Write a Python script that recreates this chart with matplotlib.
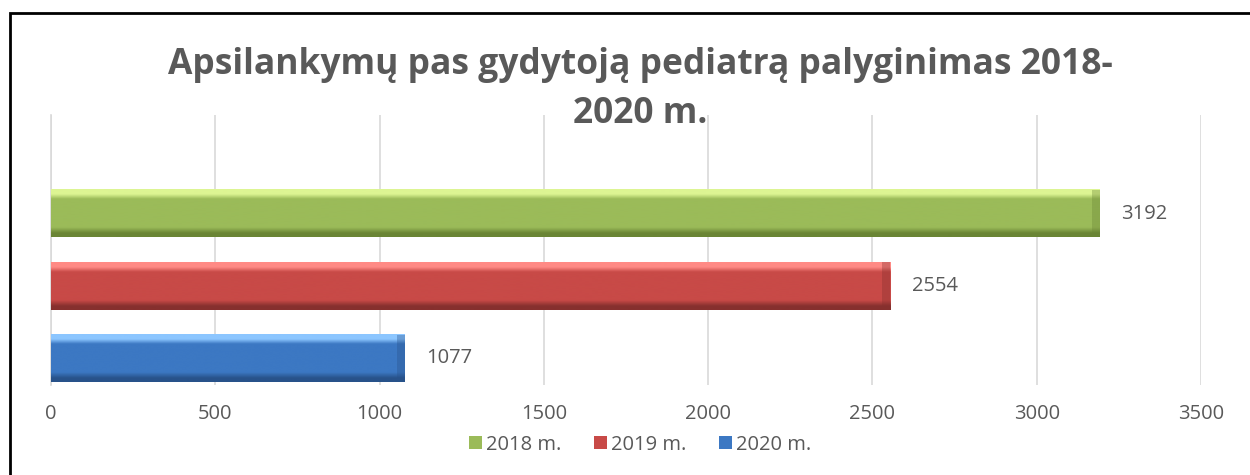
import numpy as np
import matplotlib.pyplot as plt
from matplotlib.patches import Rectangle
from matplotlib.colors import LinearSegmentedColormap

# data
series = ['2018 m.', '2019 m.', '2020 m.']
values = [3192, 2554, 1077]
positions = [2, 1, 0]
colors = ['#9BBB59', '#C84A47', '#3C78C3']
light = ['#DDF593', '#FF8A85', '#8CC6FF']
dark = ['#6A8535', '#86302E', '#28528A']
xticks = [0, 500, 1000, 1500, 2000, 2500, 3000, 3500]
title1 = 'Apsilankymų pas gydytoją pediatrą palyginimas 2018-'
title2 = '2020 m.'

plt.rcParams['font.family'] = ['Open Sans', 'DejaVu Sans']

fig = plt.figure(figsize=(12.5, 4.75), dpi=100)
ax = fig.add_axes([0.0408, 0.1895, 0.92, 0.5684])

h = 0.66
grad = np.linspace(0, 1, 100).reshape(-1, 1)
for name, v, p, c, lc, dc in zip(series, values, positions, colors, light, dark):
    cmap = LinearSegmentedColormap.from_list(
        'b', [(0, dc), (0.08, dc), (0.2, c), (0.8, c), (0.9, lc), (1, lc)])
    # bar used for the legend, gradient drawn over it
    bar = ax.barh(p, v, height=h, color=c, label=name, zorder=3)
    ax.imshow(grad, extent=[0, v, p - h / 2, p + h / 2], cmap=cmap, origin='lower',
              aspect='auto', zorder=4, interpolation='bicubic')
    # darker bevel at the bar end
    ax.barh(p, 25, left=v - 25, height=h, color=dc, alpha=0.35, zorder=5, linewidth=0)
    ax.text(v + 65, p, str(v), va='center', ha='left', fontsize=14.5, color='#595959')

ax.set_xlim(0, 3500)
ax.set_ylim(-0.366, 3.36)
ax.set_aspect('auto')
ax.set_xticks(xticks)
ax.set_xticklabels([str(t) for t in xticks], fontsize=14.5, color='#595959')
ax.set_yticks([])
ax.tick_params(axis='x', length=0, pad=14)
ax.grid(axis='x', color='#D9D9D9', linewidth=1.2, zorder=0)
for s in ['top', 'right', 'bottom']:
    ax.spines[s].set_visible(False)
ax.spines['left'].set_color('#D9D9D9')
ax.spines['left'].set_linewidth(1.2)

fig.text(0.512, 1 - 74 / 475, title1, ha='center', va='baseline', fontsize=25.5,
         fontweight='bold', color='#595959')
fig.text(0.512, 1 - 123 / 475, title2, ha='center', va='baseline', fontsize=25.5,
         fontweight='bold', color='#595959')

handles, labels = ax.get_legend_handles_labels()
fig.legend(handles, labels, loc='center', bbox_to_anchor=(0.512, 0.064), ncol=3,
           frameon=False, fontsize=14.5, handlelength=0.65, handleheight=0.65,
           handletextpad=0.2, columnspacing=1.6, labelcolor='#595959')

# chart border (only top and left visible in the crop)
fig.patches.append(Rectangle((0.008, -0.05), 1.1, 1.0226, transform=fig.transFigure,
                             fill=False, edgecolor='black', linewidth=2))

fig.savefig('out.png', dpi=100, facecolor='white')
